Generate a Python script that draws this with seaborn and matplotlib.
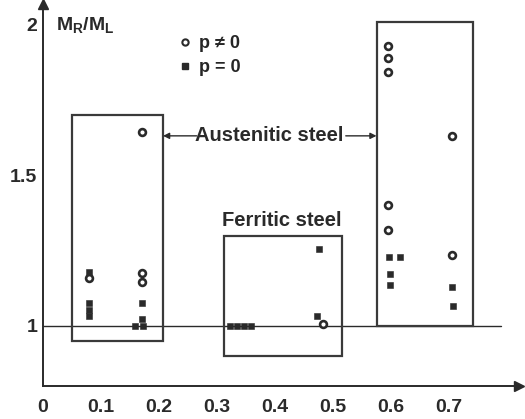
import matplotlib
matplotlib.use("Agg")
import matplotlib.pyplot as plt
from matplotlib import font_manager as fm
from matplotlib.patches import Rectangle
from matplotlib.lines import Line2D
import seaborn as sns
import pandas as pd

# ---------------- data ----------------
circle_x = [0.080, 0.170, 0.170, 0.170, 0.595, 0.595, 0.595, 0.595, 0.595, 0.706, 0.706, 0.483]
circle_y = [1.160, 1.645, 1.176, 1.144, 1.930, 1.890, 1.844, 1.400, 1.318, 1.632, 1.235, 1.007]

square_x = [0.080, 0.080, 0.080, 0.080, 0.170, 0.170, 0.159, 0.172,
            0.323, 0.335, 0.347, 0.359, 0.476, 0.473,
            0.597, 0.616, 0.598, 0.598, 0.706, 0.707]
square_y = [1.180, 1.076, 1.053, 1.033, 1.076, 1.023, 1.000, 1.000,
            1.000, 1.000, 1.000, 1.000, 1.256, 1.033,
            1.227, 1.227, 1.172, 1.137, 1.130, 1.067]

box_x0 = [0.050, 0.312, 0.575]
box_x1 = [0.207, 0.515, 0.742]
box_y0 = [0.948, 0.900, 0.998]
box_y1 = [1.699, 1.299, 2.009]

x_ticks = [0, 0.1, 0.2, 0.3, 0.4, 0.5, 0.6, 0.7]
x_tick_labels = ["0", "0.1", "0.2", "0.3", "0.4", "0.5", "0.6", "0.7"]
y_ticks = [1.0, 1.5, 2.0]
y_tick_labels = ["1", "1.5", "2"]

legend_labels = ["p \u2260 0", "p = 0"]
y_label = "$M_R/M_L$"
aust_label = "Austenitic steel"
ferr_label = "Ferritic steel"

# ---------------- style ----------------
sns.set_style("white")
fam = "Liberation Sans"
try:
    fm.findfont(fm.FontProperties(family="Liberation Sans Narrow"), fallback_to_default=False)
    fam = "Liberation Sans Narrow"
except Exception:
    pass
plt.rcParams["font.family"] = [fam, "DejaVu Sans"]
plt.rcParams["font.weight"] = "bold"
plt.rcParams["mathtext.fontset"] = "custom"
plt.rcParams["mathtext.rm"] = fam + ":bold"
plt.rcParams["mathtext.it"] = fam + ":bold"

ink = "#2a2a2a"

fig = plt.figure(figsize=(5.25, 4.19), dpi=100)
ax = fig.add_axes([43 / 525, 33 / 419, 475.6 / 525, 382.3 / 419])
ax.set_xlim(0, 0.82)
ax.set_ylim(0.8, 2.07)

df_c = pd.DataFrame({"x": circle_x, "y": circle_y})
df_s = pd.DataFrame({"x": square_x, "y": square_y})

sns.scatterplot(data=df_c, x="x", y="y", ax=ax, marker="o", s=24,
                facecolor="white", edgecolor=ink, linewidth=1.9, zorder=4)
sns.scatterplot(data=df_s, x="x", y="y", ax=ax, marker="s", s=24,
                color=ink, edgecolor=ink, linewidth=0.4, zorder=4)

# reference line at 1
ax.plot([0, 0.79], [1, 1], color=ink, lw=1.0, zorder=2)

# boxes
for x0, x1, y0, y1 in zip(box_x0, box_x1, box_y0, box_y1):
    ax.add_patch(Rectangle((x0, y0), x1 - x0, y1 - y0, fill=False,
                           edgecolor="#3a3a3a", lw=1.6, zorder=3))

# annotations
ax.text(0.39, 1.631, aust_label, ha="center", va="center", fontsize=14.5, color=ink)
ax.annotate("", xy=(box_x1[0], 1.631), xytext=(0.265, 1.631),
            arrowprops=dict(arrowstyle="-|>", color=ink, lw=1.0, mutation_scale=9,
                            shrinkA=0, shrinkB=0))
ax.annotate("", xy=(box_x0[2], 1.631), xytext=(0.522, 1.631),
            arrowprops=dict(arrowstyle="-|>", color=ink, lw=1.0, mutation_scale=9,
                            shrinkA=0, shrinkB=0))
ax.text(0.412, 1.349, ferr_label, ha="center", va="center", fontsize=14.5, color=ink)

# y label
ax.text(0.022, 2.0, y_label, ha="left", va="center", fontsize=14, color=ink)

# legend
handles = [Line2D([], [], marker="o", ls="none", markersize=4.5, markerfacecolor="white",
                  markeredgecolor=ink, markeredgewidth=1.5),
           Line2D([], [], marker="s", ls="none", markersize=5, color=ink)]
ax.legend(handles, legend_labels, loc="upper left", bbox_to_anchor=(0.268, 0.937),
          frameon=False, fontsize=13, handlelength=0.8, handletextpad=0.4,
          labelspacing=0.4, borderaxespad=0)

# axes
sns.despine(ax=ax)
for side in ["left", "bottom"]:
    ax.spines[side].set_color(ink)
    ax.spines[side].set_linewidth(1.4)
ax.plot(1, 0, ">", color=ink, markersize=7, transform=ax.transAxes, clip_on=False)
ax.plot(0, 1, "^", color=ink, markersize=7, transform=ax.transAxes, clip_on=False)

ax.set_xticks(x_ticks)
ax.set_xticklabels(x_tick_labels)
ax.set_yticks(y_ticks)
ax.set_yticklabels(y_tick_labels)
ax.tick_params(axis="both", direction="in", length=9, width=1.2, color=ink,
               labelsize=14, labelcolor=ink)
ax.tick_params(axis="x", pad=9)
ax.tick_params(axis="y", pad=4)
ax.set_xlabel("")
ax.set_ylabel("")
ax.grid(False)

fig.savefig("out.png", dpi=100)
